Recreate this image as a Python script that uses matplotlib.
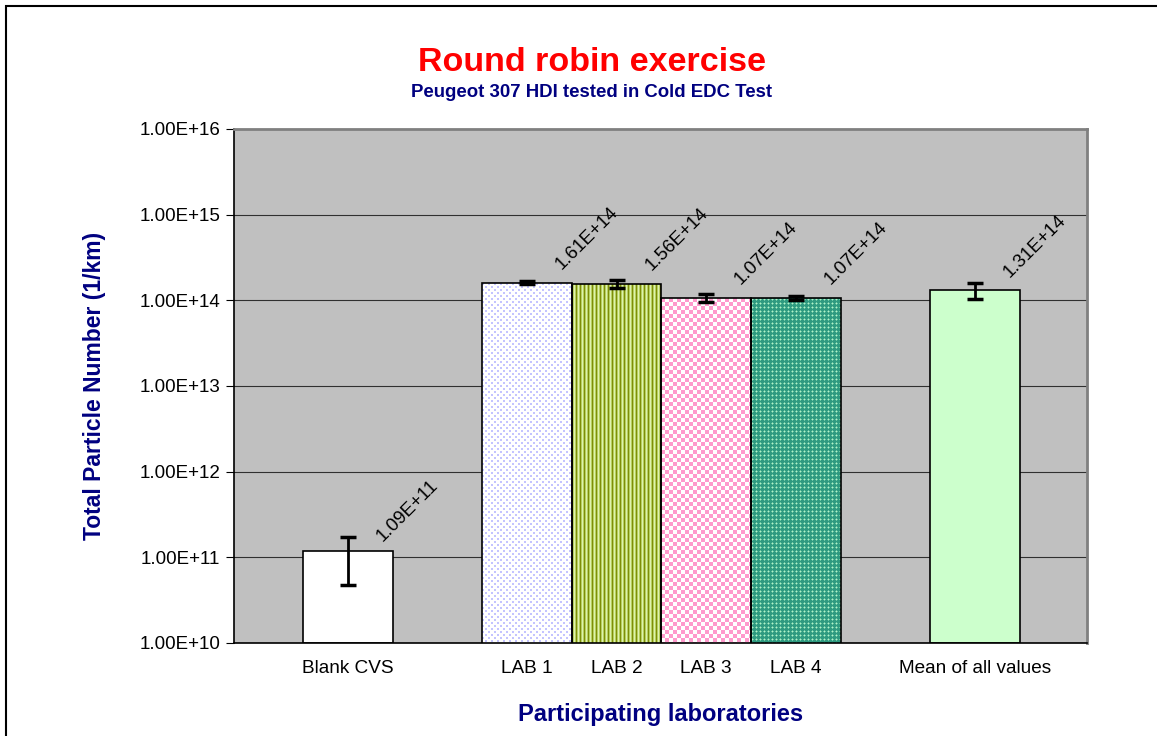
import numpy as np
import matplotlib
matplotlib.use("Agg")
import matplotlib.pyplot as plt
from matplotlib.patches import Rectangle
from matplotlib.colors import to_rgb

plt.rcParams['font.family'] = ['Liberation Sans', 'DejaVu Sans']

# data
categories = ['Blank CVS', 'LAB 1', 'LAB 2', 'LAB 3', 'LAB 4', 'Mean of all values']
positions = [0, 2, 3, 4, 5, 7]
values = [1.09e11, 1.61e14, 1.56e14, 1.07e14, 1.07e14, 1.31e14]
errors = [6.2e10, 6e12, 1.6e13, 1.2e13, 5e12, 2.7e13]
labels = ['1.09E+11', '1.61E+14', '1.56E+14', '1.07E+14', '1.07E+14', '1.31E+14']

navy = '#000080'


def tile(rows, cmap):
    return (np.array([[to_rgb(cmap[c]) for c in r] for r in rows]) * 255).astype(np.uint8)


# small pixel textures imitating the excel fill patterns
W = {'w': 'white', 'b': '#c4c4ff'}
dots = tile(['bbwwww', 'bbwwww', 'wwwwww', 'wwwbbw', 'wwwbbw', 'wwwwww'], W)
G = {'o': '#7f8c0a', 'g': '#b4d060', 'l': '#e0f0b0'}
stripes = tile(['oglg'], G)
P = {'p': '#ff99cc', 'w': 'white'}
checker = tile(['ppppwwww'] * 4 + ['wwwwpppp'] * 4, P)
T = {'t': '#2f9a80', 'l': '#b4f0c8', 'm': '#6cc8a4'}
lattice = tile(['tmtt', 'mlmt', 'tmtt', 'tttt'], T)

fills = [None, dots, stripes, checker, lattice, None]
solid = ['white', None, None, None, None, '#ccffcc']

rect = [0.2022, 0.1264, 0.7373, 0.6984]
fig = plt.figure(figsize=(11.57, 7.36), dpi=100)
ax = fig.add_axes(rect, zorder=0)
ax.set_facecolor('#c0c0c0')
# transparent twin on top for outlines, error bars and value labels
top = fig.add_axes(rect, zorder=2)
top.patch.set_visible(False)

for a in (ax, top):
    a.set_yscale('log')
    a.set_ylim(1e10, 1e16)
    a.set_xlim(-1.27, 8.25)
top.axis('off')

for x, v, f, c in zip(positions, values, fills, solid):
    if f is None:
        ax.bar(x, v, width=1, bottom=1e10, color=c, linewidth=0, zorder=2)
    else:
        (x0, y0), (x1, y1) = ax.transData.transform([(x - 0.5, 1e10), (x + 0.5, v)])
        xo, yo = int(round(x0)), int(round(y0))
        w, h = int(round(x1)) - xo, int(round(y1)) - yo
        ny, nx = f.shape[0], f.shape[1]
        arr = np.tile(f, (h // ny + 1, w // nx + 1, 1))[:h, :w]
        fig.figimage(arr, xo=xo, yo=yo, origin='upper', zorder=1)
    top.bar(x, v, width=1, bottom=1e10, fill=False, edgecolor='black', linewidth=1.2, zorder=3)

top.errorbar(positions, values, yerr=errors, fmt='none', ecolor='black',
             elinewidth=2, capsize=6, capthick=2.5, zorder=4)

for x, v, t in zip(positions, values, labels):
    top.annotate(t, xy=(x, v), xytext=(27, 7), textcoords='offset points',
                 rotation=45, rotation_mode='anchor', ha='left', va='bottom',
                 fontsize=13.5)

ax.set_yticks([10.0 ** k for k in range(10, 17)])
ax.set_yticklabels(['1.00E+%d' % k for k in range(10, 17)], fontsize=13.5)
ax.yaxis.set_minor_locator(matplotlib.ticker.NullLocator())
ax.set_xticks(positions)
ax.set_xticklabels(categories, fontsize=13.7)
ax.tick_params(axis='x', length=0, pad=12)
ax.tick_params(axis='y', length=6, direction='out', pad=4)
ax.grid(axis='y', color='#303030', linewidth=0.8, zorder=1)
ax.set_axisbelow(True)

for s in ['top', 'right']:
    ax.spines[s].set_color('#808080')
    ax.spines[s].set_linewidth(2)
for s in ['left', 'bottom']:
    ax.spines[s].set_color('black')
    ax.spines[s].set_linewidth(1.2)

ax.set_ylabel('Total Particle Number (1/km)', fontsize=16.5, fontweight='bold', color=navy, labelpad=24)
ax.set_xlabel('Participating laboratories', fontsize=17, fontweight='bold', color=navy, labelpad=19)

fig.text(0.5115, 0.915, 'Round robin exercise', ha='center', va='center',
         fontsize=24.5, fontweight='bold', color='red')
fig.text(0.5115, 0.874, 'Peugeot 307 HDI tested in Cold EDC Test', ha='center', va='center',
         fontsize=13.4, fontweight='bold', color=navy)

# outer chart frame (only left and top visible in the crop)
fig.patches.append(Rectangle((6 / 1157, -0.5), 2, 1 - 6 / 736 + 0.5,
                             transform=fig.transFigure, fill=False,
                             edgecolor='black', linewidth=1.5))

fig.savefig('out.png', dpi=100)
